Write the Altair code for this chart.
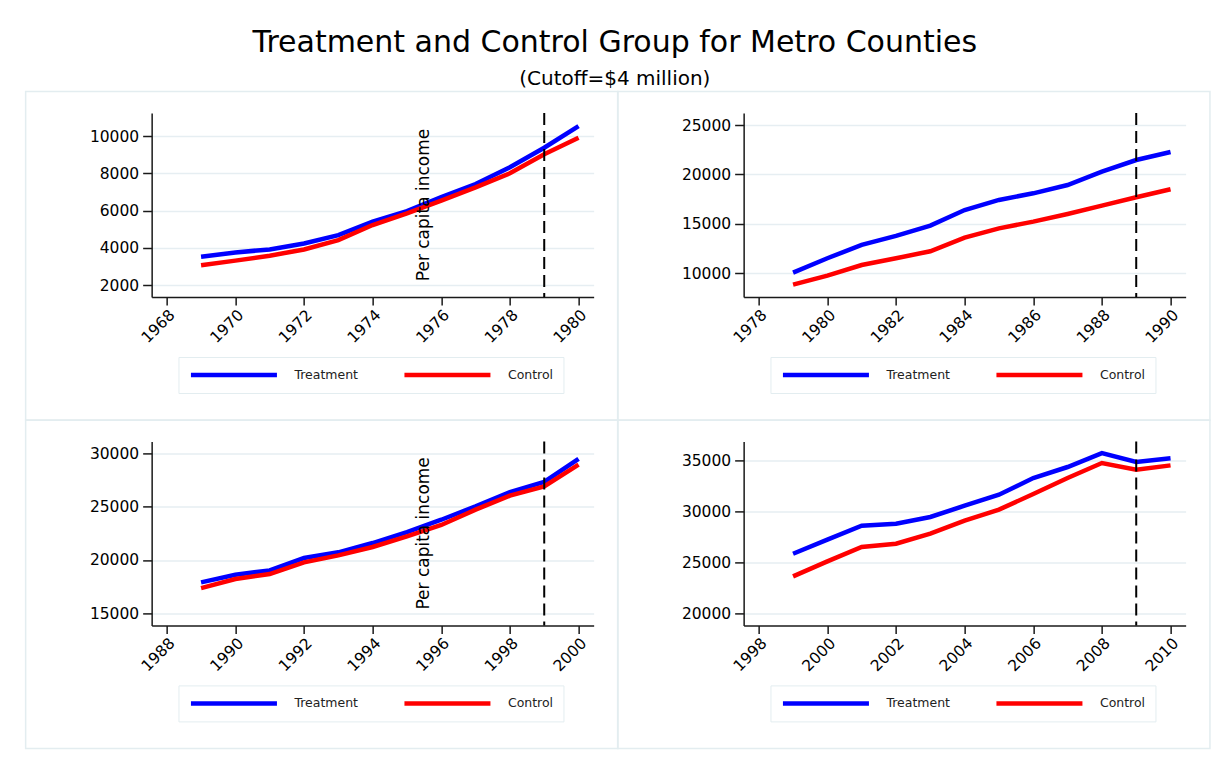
import altair as alt
import pandas as pd

FONT = "DejaVu Sans"

series_names = ["Treatment", "Control"]
series_colors = ["#0000ff", "#ff0000"]

# Panel 1: 1969-1980
years_1 = [1969, 1970, 1971, 1972, 1973, 1974, 1975, 1976, 1977, 1978, 1979, 1980]
treat_1 = [3520, 3750, 3910, 4230, 4680, 5400, 5970, 6720, 7420, 8320, 9370, 10530]
ctrl_1 = [3060, 3310, 3570, 3910, 4410, 5220, 5850, 6530, 7240, 8000, 9020, 9910]

# Panel 2: 1979-1990
years_2 = [1979, 1980, 1981, 1982, 1983, 1984, 1985, 1986, 1987, 1988, 1989, 1990]
treat_2 = [10070, 11520, 12870, 13780, 14820, 16400, 17420, 18090, 18930, 20280, 21460, 22270]
ctrl_2 = [8850, 9760, 10840, 11520, 12230, 13610, 14550, 15230, 16000, 16840, 17690, 18500]

# Panel 3: 1989-2000
years_3 = [1989, 1990, 1991, 1992, 1993, 1994, 1995, 1996, 1997, 1998, 1999, 2000]
treat_3 = [17900, 18620, 19020, 20180, 20710, 21580, 22610, 23760, 25010, 26350, 27290, 29440]
ctrl_3 = [17370, 18210, 18680, 19770, 20430, 21210, 22210, 23270, 24700, 26010, 26880, 28910]

# Panel 4: 1999-2010
years_4 = [1999, 2000, 2001, 2002, 2003, 2004, 2005, 2006, 2007, 2008, 2009, 2010]
treat_4 = [25860, 27240, 28610, 28810, 29470, 30580, 31660, 33300, 34380, 35750, 34870, 35230]
ctrl_4 = [23640, 25110, 26520, 26850, 27830, 29110, 30190, 31730, 33300, 34770, 34120, 34540]

cutoffs = [1979, 1989, 1999, 2009]

x_ticks = [
    [1968, 1970, 1972, 1974, 1976, 1978, 1980],
    [1978, 1980, 1982, 1984, 1986, 1988, 1990],
    [1988, 1990, 1992, 1994, 1996, 1998, 2000],
    [1998, 2000, 2002, 2004, 2006, 2008, 2010],
]
x_domains = [
    [1967.56, 1980.44],
    [1977.56, 1990.44],
    [1987.56, 2000.44],
    [1997.56, 2010.44],
]
y_ticks = [
    [2000, 4000, 6000, 8000, 10000],
    [10000, 15000, 20000, 25000],
    [15000, 20000, 25000, 30000],
    [20000, 25000, 30000, 35000],
]
y_domains = [
    [1356, 11235],
    [7603, 26214],
    [13878, 31085],
    [18821, 36896],
]
show_ytitle = [True, False, True, False]
ytitle_text = "Per capita income"

title_text = "Treatment and Control Group for Metro Counties"
subtitle_text = "(Cutoff=$4 million)"

PW, PH = 442, 184
FRAME_COLOR = "#e3edf0"
GRID_COLOR = "#e6eef2"
AXIS_COLOR = "#1a1a1a"


def panel(i, years, treat, ctrl):
    df = pd.DataFrame({
        "year": years + years,
        "income": treat + ctrl,
        "group": [series_names[0]] * len(years) + [series_names[1]] * len(years),
    })
    frame = alt.Chart(alt.Data(values=[{}])).mark_rect(
        fillOpacity=0, stroke=FRAME_COLOR, strokeWidth=1.5
    ).encode(
        x=alt.value(-126), x2=alt.value(466.3),
        y=alt.value(-21.5), y2=alt.value(307.2),
    )
    lines = alt.Chart(df).mark_line(strokeWidth=4.5).encode(
        x=alt.X("year:Q",
                scale=alt.Scale(domain=x_domains[i], nice=False, zero=False),
                axis=alt.Axis(values=x_ticks[i], format="d", title=None,
                              labelAngle=-45, tickSize=8, labelPadding=2,
                              grid=False)),
        y=alt.Y("income:Q",
                scale=alt.Scale(domain=y_domains[i], nice=False, zero=False),
                axis=alt.Axis(values=y_ticks[i], format="d", title=None,
                              tickSize=9, labelPadding=4, grid=True,
                              gridColor=GRID_COLOR, gridWidth=1.5)),
        color=alt.Color("group:N",
                        scale=alt.Scale(domain=series_names, range=series_colors),
                        legend=alt.Legend(
                            title=None, orient="none", legendX=26.8, legendY=244,
                            direction="horizontal", symbolType="stroke",
                            symbolSize=7396, symbolStrokeWidth=4.5,
                            clipHeight=16, labelOffset=15, columnPadding=43.5,
                            padding=10, strokeColor=FRAME_COLOR,
                            labelFont=FONT, labelFontSize=12.5,
                            labelColor="#222222")),
    )
    rule = alt.Chart(pd.DataFrame({"cut": [cutoffs[i]]})).mark_rule(
        color="black", strokeWidth=2, strokeDash=[12, 6]
    ).encode(x="cut:Q")
    layers = [frame, lines, rule]
    if show_ytitle[i]:
        txt = alt.Chart(alt.Data(values=[{}])).mark_text(
            text=ytitle_text, angle=270, font=FONT, fontSize=17,
            align="center", baseline="middle", color="black"
        ).encode(x=alt.value(272.8), y=alt.value(92))
        layers.append(txt)
    return alt.layer(*layers).properties(width=PW, height=PH)


panels = [
    panel(0, years_1, treat_1, ctrl_1),
    panel(1, years_2, treat_2, ctrl_2),
    panel(2, years_3, treat_3, ctrl_3),
    panel(3, years_4, treat_4, ctrl_4),
]

chart = alt.concat(
    *panels, columns=2, spacing={"row": 144.4, "column": 150}, bounds="flush",
    title=alt.TitleParams(
        text=title_text, subtitle=subtitle_text, font=FONT, fontSize=30,
        fontWeight="normal", color="black", subtitleFont=FONT,
        subtitleFontSize=20, subtitleColor="black", anchor="middle",
        offset=1, subtitlePadding=11, dx=-3),
    padding={"left": 15.65, "top": 20, "right": 5, "bottom": 0},
).resolve_scale(color="independent").resolve_legend(color="independent").configure_view(
    stroke="transparent"
).configure_axis(
    labelFont=FONT, labelFontSize=15.5, labelColor="black",
    domainColor=AXIS_COLOR, domainWidth=1.5, tickColor=AXIS_COLOR, tickWidth=1.5,
    labelOverlap=False, labelFlush=False
)

chart.save("out.html", embed_options={"renderer": "svg", "actions": False})
